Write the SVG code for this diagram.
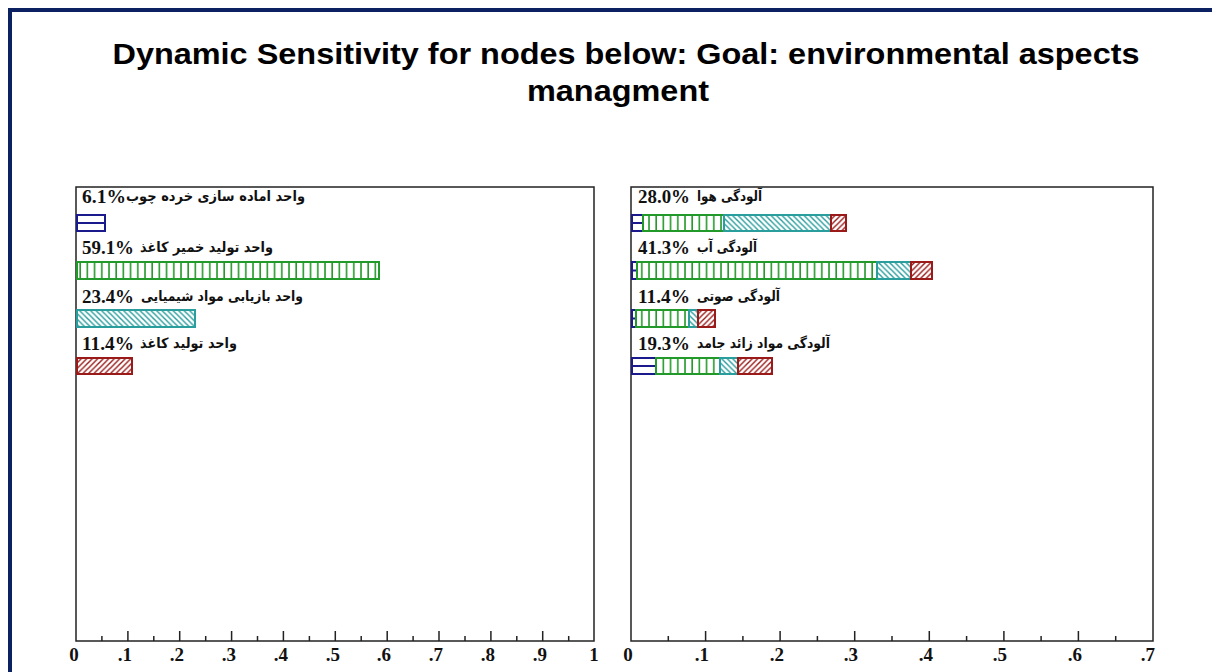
<svg xmlns="http://www.w3.org/2000/svg" width="1212" height="672" viewBox="0 0 1212 672">
<style>
.title{font-family:"Liberation Sans","DejaVu Sans",sans-serif;font-weight:bold;font-size:30px;fill:#000}
.pct{font-family:"Liberation Serif","DejaVu Serif",serif;font-weight:bold;font-size:18px;fill:#111}
.fa{font-family:"DejaVu Sans","Liberation Serif",serif;font-weight:bold;font-size:14px;fill:#111}
.tick{font-family:"Liberation Serif","DejaVu Serif",serif;font-weight:bold;font-size:19px;fill:#111}
.frame{fill:#fff;stroke:#222;stroke-width:1.5}
.ax{stroke:#222;stroke-width:1.5}
.b{stroke:#1a1a8c;stroke-width:2;fill:#fff}
.g{stroke:#229a2a;stroke-width:2;fill:url(#pg)}
.t{stroke:#2a9d9d;stroke-width:2;fill:url(#pt)}
.r{stroke:#9a1a1a;stroke-width:2;fill:url(#pr)}
.bl{stroke:#1a1a8c;stroke-width:2}
</style>
<defs>
<pattern id="pg" patternUnits="userSpaceOnUse" width="7.2" height="10"><rect width="7.2" height="10" fill="#fff"/><line x1="1" y1="0" x2="1" y2="10" stroke="#229a2a" stroke-width="1.6"/></pattern>
<pattern id="pt" patternUnits="userSpaceOnUse" width="5.5" height="5.5"><rect width="5.5" height="5.5" fill="#fff"/><path d="M-1.4,-1.4 L6.9,6.9 M-1.4,4.1 L1.4,6.9 M4.1,-1.4 L6.9,1.4" stroke="#2a9d9d" stroke-width="1.4"/></pattern>
<pattern id="pr" patternUnits="userSpaceOnUse" width="5.5" height="5.5"><rect width="5.5" height="5.5" fill="#fff"/><path d="M-1.4,6.9 L6.9,-1.4 M-1.4,1.4 L1.4,-1.4 M4.1,6.9 L6.9,4.1" stroke="#9a1a1a" stroke-width="1.4"/></pattern>
</defs>
<rect width="1212" height="672" fill="#fff"/>
<path d="M10,672 L10,10 L1212,10" fill="none" stroke="#0b2161" stroke-width="4"/>
<g id="title">
<text class="title" x="626" y="64" text-anchor="middle" textLength="1027" lengthAdjust="spacingAndGlyphs">Dynamic Sensitivity for nodes below: Goal: environmental aspects</text>
<text class="title" x="618" y="101" text-anchor="middle" textLength="182" lengthAdjust="spacingAndGlyphs">managment</text>
</g>
<g id="chart-left">
<rect class="frame" x="76" y="187" width="518" height="454"/>
<g id="left-axis" class="ax">
<path d="M101.9,641v-5M127.9,641v-10M153.8,641v-5M179.7,641v-10M205.7,641v-5M231.6,641v-10M257.5,641v-5M283.4,641v-10M309.4,641v-5M335.3,641v-10M361.2,641v-5M387.2,641v-10M413.1,641v-5M439,641v-10M465,641v-5M490.9,641v-10M516.8,641v-5M542.7,641v-10M568.7,641v-5"/>
</g>
<g id="left-ticklabels">
<text class="tick" x="74" y="661" text-anchor="middle">0</text>
<text class="tick" x="132" y="661" text-anchor="end">.1</text>
<text class="tick" x="184" y="661" text-anchor="end">.2</text>
<text class="tick" x="236" y="661" text-anchor="end">.3</text>
<text class="tick" x="288" y="661" text-anchor="end">.4</text>
<text class="tick" x="340" y="661" text-anchor="end">.5</text>
<text class="tick" x="391" y="661" text-anchor="end">.6</text>
<text class="tick" x="443" y="661" text-anchor="end">.7</text>
<text class="tick" x="495" y="661" text-anchor="end">.8</text>
<text class="tick" x="547" y="661" text-anchor="end">.9</text>
<text class="tick" x="594" y="661" text-anchor="middle">1</text>
</g>
<g id="left-row1">
<text class="pct" x="82" y="203" textLength="44" lengthAdjust="spacingAndGlyphs">6.1%</text>
<text class="fa" x="126" y="201" textLength="179" lengthAdjust="spacingAndGlyphs">واحد اماده سازی خرده چوب</text>
<rect class="b" x="77" y="215" width="28" height="16"/><line class="bl" x1="77" y1="223" x2="105" y2="223"/>
</g>
<g id="left-row2">
<text class="pct" x="82" y="254" textLength="52" lengthAdjust="spacingAndGlyphs">59.1%</text>
<text class="fa" x="140" y="252" textLength="133" lengthAdjust="spacingAndGlyphs">واحد تولید خمیر کاغذ</text>
<rect class="g" x="77" y="262" width="302" height="17"/>
</g>
<g id="left-row3">
<text class="pct" x="82" y="303" textLength="52" lengthAdjust="spacingAndGlyphs">23.4%</text>
<text class="fa" x="141" y="301" textLength="162" lengthAdjust="spacingAndGlyphs">واحد بازیابی مواد شیمیایی</text>
<rect class="t" x="77" y="310" width="118" height="17"/>
</g>
<g id="left-row4">
<text class="pct" x="82" y="350" textLength="52" lengthAdjust="spacingAndGlyphs">11.4%</text>
<text class="fa" x="140" y="348" textLength="97" lengthAdjust="spacingAndGlyphs">واحد تولید کاغذ</text>
<rect class="r" x="77" y="358" width="55" height="16"/>
</g>
</g>
<g id="chart-right">
<rect class="frame" x="631" y="187" width="522" height="454"/>
<g id="right-axis" class="ax">
<path d="M668.3,641v-5M705.6,641v-10M742.9,641v-5M780.1,641v-10M817.4,641v-5M854.7,641v-10M892,641v-5M929.3,641v-10M966.6,641v-5M1003.9,641v-10M1041.1,641v-5M1078.4,641v-10M1115.7,641v-5"/>
</g>
<g id="right-ticklabels">
<text class="tick" x="628" y="661" text-anchor="middle">0</text>
<text class="tick" x="709" y="661" text-anchor="end">.1</text>
<text class="tick" x="784" y="661" text-anchor="end">.2</text>
<text class="tick" x="858" y="661" text-anchor="end">.3</text>
<text class="tick" x="933" y="661" text-anchor="end">.4</text>
<text class="tick" x="1007" y="661" text-anchor="end">.5</text>
<text class="tick" x="1082" y="661" text-anchor="end">.6</text>
<text class="tick" x="1155" y="661" text-anchor="end">.7</text>
</g>
<g id="right-row1">
<text class="pct" x="638" y="203" textLength="52" lengthAdjust="spacingAndGlyphs">28.0%</text>
<text class="fa" x="697" y="201" textLength="65" lengthAdjust="spacingAndGlyphs">آلودگی هوا</text>
<rect class="b" x="632" y="215" width="11" height="16"/><line class="bl" x1="632" y1="223" x2="643" y2="223"/>
<rect class="g" x="643" y="215" width="81" height="16"/>
<rect class="t" x="724" y="215" width="107" height="16"/>
<rect class="r" x="831" y="215" width="15" height="16"/>
</g>
<g id="right-row2">
<text class="pct" x="638" y="254" textLength="52" lengthAdjust="spacingAndGlyphs">41.3%</text>
<text class="fa" x="697" y="252" textLength="60" lengthAdjust="spacingAndGlyphs">آلودگی آب</text>
<rect class="b" x="632" y="262" width="5" height="17"/><line class="bl" x1="632" y1="270.5" x2="637" y2="270.5"/>
<rect class="g" x="637" y="262" width="240" height="17"/>
<rect class="t" x="877" y="262" width="34" height="17"/>
<rect class="r" x="911" y="262" width="21" height="17"/>
</g>
<g id="right-row3">
<text class="pct" x="638" y="303" textLength="52" lengthAdjust="spacingAndGlyphs">11.4%</text>
<text class="fa" x="697" y="301" textLength="83" lengthAdjust="spacingAndGlyphs">آلودگی صوتی</text>
<rect class="b" x="632" y="310" width="4" height="17"/><line class="bl" x1="632" y1="318.5" x2="636" y2="318.5"/>
<rect class="g" x="636" y="310" width="53" height="17"/>
<rect class="t" x="689" y="310" width="9" height="17"/>
<rect class="r" x="698" y="310" width="17" height="17"/>
</g>
<g id="right-row4">
<text class="pct" x="638" y="350" textLength="52" lengthAdjust="spacingAndGlyphs">19.3%</text>
<text class="fa" x="697" y="348" textLength="133" lengthAdjust="spacingAndGlyphs">آلودگی مواد زائد جامد</text>
<rect class="b" x="632" y="358" width="24" height="16"/><line class="bl" x1="632" y1="366" x2="656" y2="366"/>
<rect class="g" x="656" y="358" width="64" height="16"/>
<rect class="t" x="720" y="358" width="18" height="16"/>
<rect class="r" x="738" y="358" width="34" height="16"/>
</g>
</g>
</svg>
